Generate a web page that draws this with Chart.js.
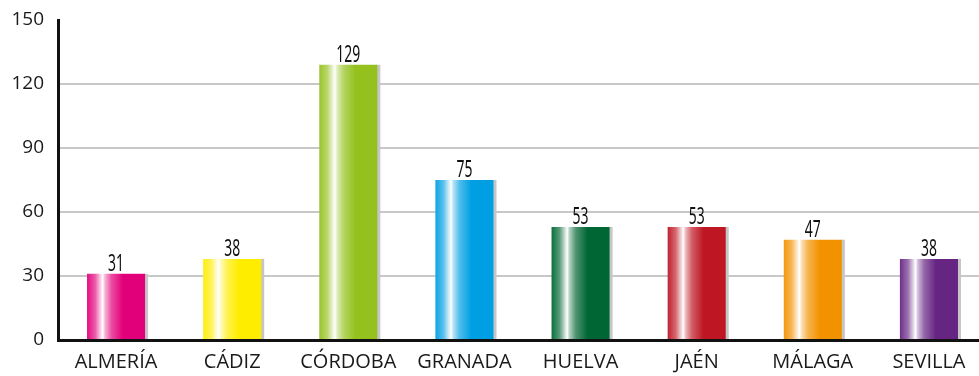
<!DOCTYPE html>
<html>
<head>
<meta charset="utf-8">
<script src="https://cdn.jsdelivr.net/npm/chart.js@4"></script>
<style>
  html, body { margin: 0; padding: 0; background: #fff; overflow: hidden; }
  #chart { display: block; }
</style>
</head>
<body>
<canvas id="chart" width="987" height="376"></canvas>
<script>
// Provinces and their counts
const provinces = ["ALMERÍA", "CÁDIZ", "CÓRDOBA", "GRANADA", "HUELVA", "JAÉN", "MÁLAGA", "SEVILLA"];
const counts = [31, 38, 129, 75, 53, 53, 47, 38];
const barColors = ["#e2007a", "#ffed00", "#95c11f", "#009fe3", "#006633", "#be1622", "#f39200", "#662483"];
const yTicks = [0, 30, 60, 90, 120, 150];

const BAR_PCT = 0.5;

// mix a hex colour with white (t = 0 -> colour, 1 -> white)
function tint(hex, t) {
  const n = parseInt(hex.slice(1), 16);
  const r = (n >> 16) & 255, g = (n >> 8) & 255, b = n & 255;
  const m = v => Math.round(v + (255 - v) * t);
  return `rgb(${m(r)},${m(g)},${m(b)})`;
}

// cylinder look: white highlight left of centre
function barGradient(context) {
  const chart = context.chart;
  const c = barColors[context.dataIndex];
  const xs = chart.scales.x;
  if (!xs || !chart.chartArea) return c;
  const cx = xs.getPixelForValue(context.dataIndex);
  const w = (chart.chartArea.width / provinces.length) * BAR_PCT;
  if (!isFinite(cx) || !isFinite(w) || w <= 0) return c;
  const x0 = cx - w / 2;
  const g = chart.ctx.createLinearGradient(x0, 0, x0 + w, 0);
  g.addColorStop(0, tint(c, 0.05));
  g.addColorStop(0.14, tint(c, 0.35));
  g.addColorStop(0.27, "#ffffff");
  g.addColorStop(0.31, tint(c, 0.7));
  g.addColorStop(0.42, tint(c, 0.3));
  g.addColorStop(0.62, c);
  g.addColorStop(1, c);
  return g;
}

// grey shadow strip on the right of each bar, and value labels above
const barExtras = {
  id: "barExtras",
  beforeDatasetsDraw(chart) {
    const ctx = chart.ctx;
    ctx.save();
    ctx.fillStyle = "#c6c6c6";
    chart.getDatasetMeta(0).data.forEach(el => {
      ctx.fillRect(el.x + el.width / 2 - 1, el.y, 4, el.base - el.y);
    });
    ctx.restore();
  },
  afterDatasetsDraw(chart) {
    const ctx = chart.ctx;
    ctx.save();
    ctx.fillStyle = "#111";
    ctx.textAlign = "center";
    ctx.textBaseline = "alphabetic";
    ctx.font = "24px 'Noto Sans'";
    chart.getDatasetMeta(0).data.forEach((el, i) => {
      ctx.save();
      ctx.translate(el.x, el.y - 3);
      ctx.scale(0.58, 1);
      ctx.fillText(String(counts[i]), 0, 0);
      ctx.restore();
    });
    ctx.restore();
  }
};

const ctx = document.getElementById("chart").getContext("2d");
new Chart(ctx, {
  type: "bar",
  data: {
    labels: provinces,
    datasets: [{
      data: counts,
      backgroundColor: barGradient,
      borderWidth: 0,
      barPercentage: BAR_PCT,
      categoryPercentage: 1
    }]
  },
  options: {
    responsive: false,
    animation: false,
    layout: { padding: { top: 20, right: 0, bottom: 0, left: 0 } },
    plugins: { legend: { display: false }, tooltip: { enabled: false } },
    scales: {
      x: {
        grid: { display: false, drawTicks: false },
        border: { display: true, color: "#111", width: 3, z: 1 },
        ticks: { color: "#1a1a1a", font: { family: "'Open Sans'", size: 20 }, padding: 10, maxRotation: 0 },
        afterFit(scale) { scale.height = 36; scale.paddingLeft = 0; scale.paddingRight = 0; }
      },
      y: {
        min: 0,
        max: 150,
        afterBuildTicks(scale) { scale.ticks = yTicks.map(v => ({ value: v })); },
        grid: {
          drawTicks: false,
          lineWidth: 2,
          color: c => (c.tick && (c.tick.value === 150 || c.tick.value === 0)) ? "rgba(0,0,0,0)" : "#c8c8c8"
        },
        border: { display: true, color: "#111", width: 3 },
        ticks: { color: "#1a1a1a", font: { family: "'Open Sans'", size: 19 }, padding: 14 },
        afterFit(scale) { scale.width = 58; scale.paddingTop = 0; scale.paddingBottom = 0; }
      }
    }
  },
  plugins: [barExtras]
});
</script>
</body>
</html>
